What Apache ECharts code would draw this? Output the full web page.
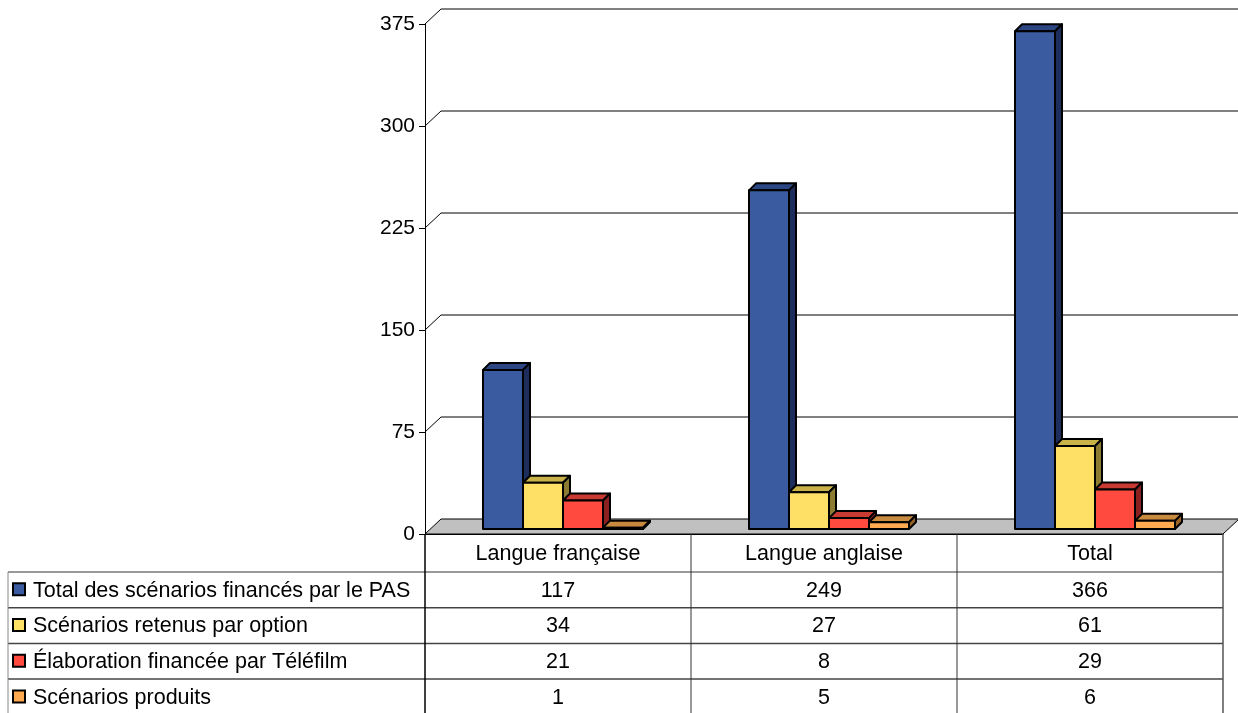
<!DOCTYPE html>
<html>
<head>
<meta charset="utf-8">
<script src="https://cdn.jsdelivr.net/npm/echarts@6/dist/echarts.min.js"></script>
<style>
  html, body { margin: 0; padding: 0; background: #fff; }
  #chart { width: 1238px; height: 713px; }
</style>
</head>
<body>
<div id="chart"></div>
<script>
// données du graphique
const categories = ['Langue française', 'Langue anglaise', 'Total'];
const seriesNames = [
  'Total des scénarios financés par le PAS',
  'Scénarios retenus par option',
  'Élaboration financée par Téléfilm',
  'Scénarios produits'
];
const totalPas = [117, 249, 366];
const retenus = [34, 27, 61];
const elaboration = [21, 8, 29];
const produits = [1, 5, 6];
const yTicks = [0, 75, 150, 225, 300, 375];

const values = [totalPas, retenus, elaboration, produits];
const frontColors = ['#3A5BA0', '#FFE066', '#FF4A40', '#FFAA50'];
const topColors = ['#2C4684', '#C9B248', '#C83A32', '#C88A3E'];
const sideColors = ['#1E2E5C', '#8C7C32', '#8A2020', '#9A6224'];

const FONT = '21.5px "Liberation Sans", Arial, sans-serif';
const plotLeft = 425, plotRight = 1223, plotTop = 24, plotBottom = 534;
const depthX = 16, depthY = 15;   // profondeur du mur du fond
const barW = 40, barD = 7, barShift = 5;

var chartDom = document.getElementById('chart');
var myChart = echarts.init(chartDom);

// mur du fond + quadrillage
function gridRender(params, api) {
  var cs = params.coordSys;
  var y = api.coord([0, api.value(0)])[1];
  var l = cs.x, r = cs.x + cs.width;
  if (api.value(0) === 0) {
    return {
      type: 'polygon',
      shape: { points: [[l, y], [l + depthX, y - depthY], [r + depthX, y - depthY], [r, y]] },
      style: { fill: '#C0C0C0', stroke: '#000', lineWidth: 1 }
    };
  }
  return {
    type: 'polyline',
    shape: { points: [[l, y], [l + depthX, y - depthY], [r + depthX + 2, y - depthY]] },
    style: { stroke: '#000', lineWidth: 1, fill: null }
  };
}

function barRender(idx) {
  return function (params, api) {
    var cat = api.value(0);
    var v = api.value(1);
    var base = api.coord([cat, 0]);
    var top = api.coord([cat, v]);
    var x = base[0] - barW * 2 + idx * barW + barShift;
    var yb = base[1] - barShift;
    var yt = top[1] - barShift;
    var st = { stroke: '#000', lineWidth: 2, lineJoin: 'round' };
    return {
      type: 'group',
      children: [
        { type: 'polygon', shape: { points: [[x, yt], [x + barD, yt - barD], [x + barW + barD, yt - barD], [x + barW, yt]] },
          style: Object.assign({ fill: topColors[idx] }, st) },
        { type: 'polygon', shape: { points: [[x + barW, yt], [x + barW + barD, yt - barD], [x + barW + barD, yb - barD], [x + barW, yb]] },
          style: Object.assign({ fill: sideColors[idx] }, st) },
        { type: 'rect', shape: { x: x, y: yt, width: barW, height: yb - yt },
          style: Object.assign({ fill: frontColors[idx] }, st) }
      ]
    };
  };
}

var series = [{
  type: 'custom',
  name: 'grille',
  renderItem: gridRender,
  data: yTicks.map(function (t) { return [t]; }),
  encode: { y: 0 },
  silent: true,
  z: 1
}];
values.forEach(function (arr, i) {
  series.push({
    type: 'custom',
    name: seriesNames[i],
    renderItem: barRender(i),
    data: arr.map(function (v, c) { return [c, v]; }),
    encode: { x: 0, y: 1 },
    z: 2 + i
  });
});

// tableau de données sous le graphique
var graphics = [];
var tableLeft = 8;
var headerTop = plotBottom, rowTop = 572, rowH = 35.7;
var colW = (plotRight - plotLeft) / categories.length;
var line = function (x1, y1, x2, y2, c, w) {
  graphics.push({ type: 'line', shape: { x1: x1, y1: y1, x2: x2, y2: y2 }, style: { stroke: c, lineWidth: w || 1 }, z: 10 });
};
var text = function (t, x, y, align) {
  graphics.push({ type: 'text', x: x, y: y, z: 11,
    style: { text: t, font: FONT, fill: '#000', align: align, verticalAlign: 'middle', textAlign: align, textVerticalAlign: 'middle' } });
};
categories.forEach(function (c, i) {
  text(c, plotLeft + colW * (i + 0.5), (headerTop + rowTop) / 2 + 1, 'center');
});
line(tableLeft, rowTop, plotRight, rowTop, '#777', 1.5);
seriesNames.forEach(function (n, r) {
  var yc = rowTop + rowH * (r + 0.5);
  if (r > 0) line(tableLeft, rowTop + rowH * r, plotRight, rowTop + rowH * r, '#444', 1.5);
  graphics.push({ type: 'rect', shape: { x: 13, y: yc - 6.5, width: 12, height: 12 },
    style: { fill: frontColors[r], stroke: '#000', lineWidth: 2 }, z: 11 });
  text(n, 33, yc + 1, 'left');
  values[r].forEach(function (v, c) {
    text(String(v), plotLeft + colW * (c + 0.5), yc + 1, 'center');
  });
});
line(tableLeft, rowTop, tableLeft, 713, '#888', 1);
line(plotLeft, headerTop, plotLeft, 713, '#000', 1.5);
line(plotLeft + colW, headerTop, plotLeft + colW, 713, '#333', 1);
line(plotLeft + 2 * colW, headerTop, plotLeft + 2 * colW, 713, '#333', 1);
line(plotRight, headerTop, plotRight, 713, '#555', 1.5);

var option = {
  animation: false,
  grid: { left: plotLeft, right: 1238 - plotRight, top: plotTop, bottom: 713 - plotBottom },
  xAxis: {
    type: 'category',
    data: categories,
    axisLabel: { show: false },
    axisTick: { show: false },
    axisLine: { show: true, lineStyle: { color: '#000', width: 1 } },
    splitLine: { show: false }
  },
  yAxis: {
    type: 'value',
    min: 0,
    max: 375,
    interval: 75,
    axisLine: { show: true, lineStyle: { color: '#000', width: 1 } },
    axisTick: { show: true, length: 6, lineStyle: { color: '#000' } },
    axisLabel: { margin: 10, color: '#000', fontSize: 21, fontFamily: '"Liberation Sans", Arial, sans-serif' },
    splitLine: { show: false }
  },
  graphic: graphics,
  series: series
};
option && myChart.setOption(option);
</script>
</body>
</html>
